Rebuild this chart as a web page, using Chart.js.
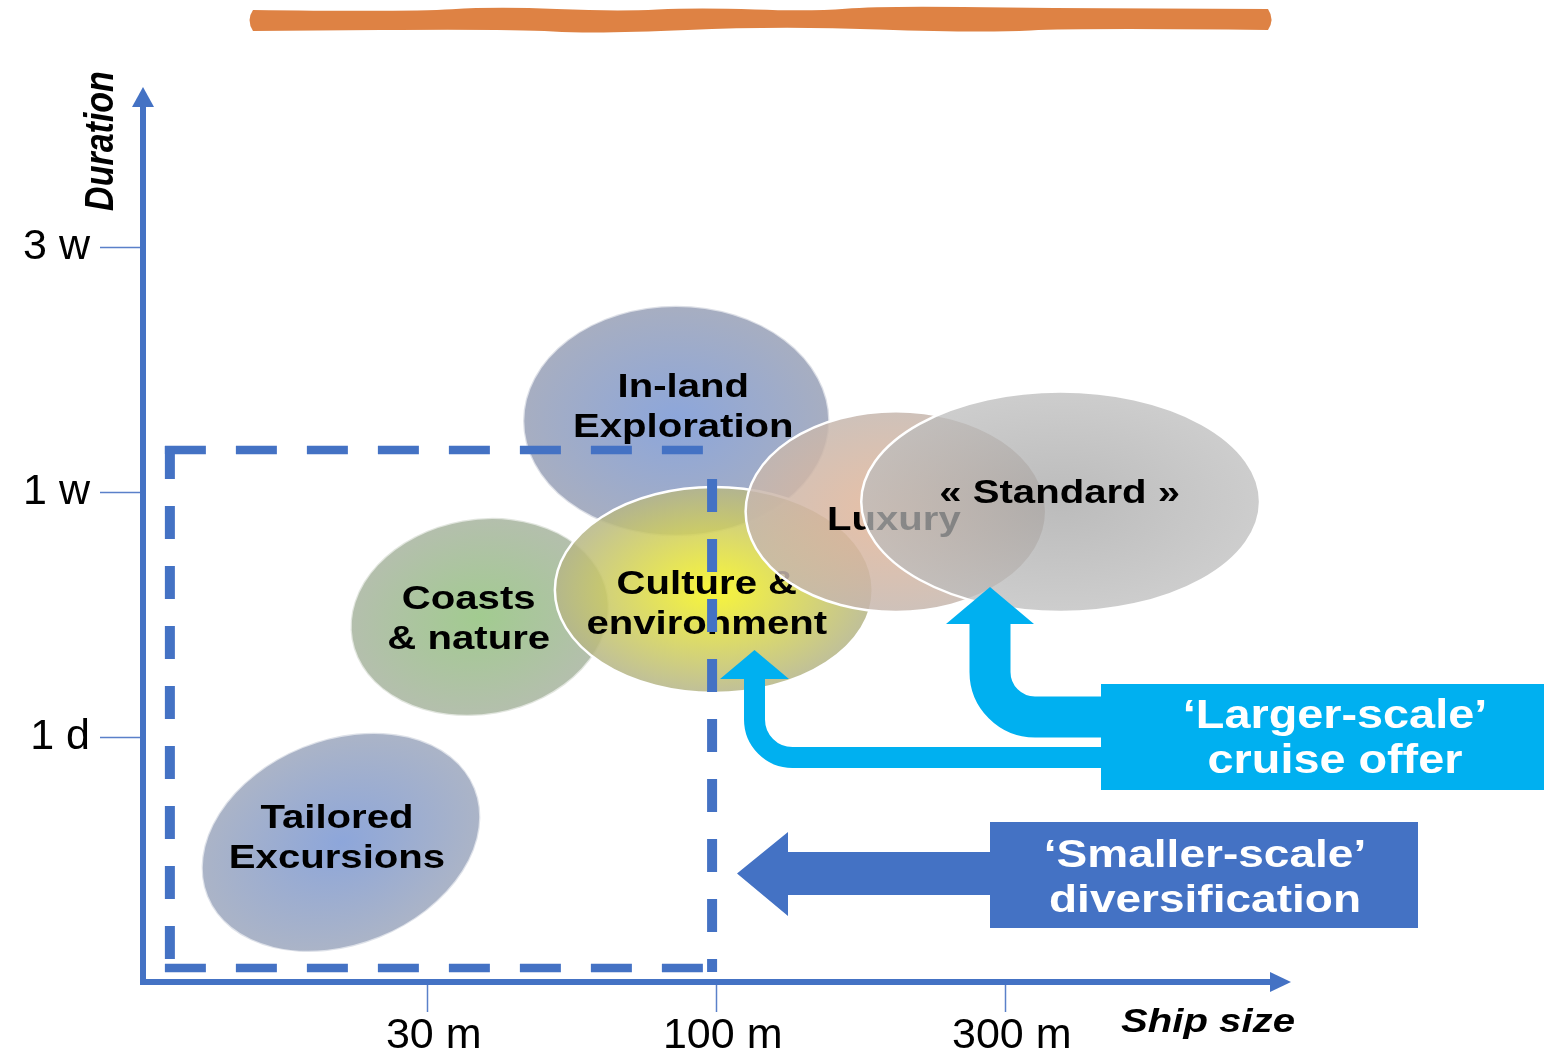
<!DOCTYPE html>
<html>
<head>
<meta charset="utf-8">
<script src="https://cdn.jsdelivr.net/npm/chart.js@4.4.0/dist/chart.umd.min.js"></script>
<style>
html, body { margin: 0; padding: 0; background: #fff; }
</style>
</head>
<body>
<canvas id="offerChart" width="1544" height="1051"></canvas>
<script>
// cruise offer segments: x = ship size step, y = duration step
const segments = ['Tailored\nExcursions', 'Coasts\n& nature', 'In-land\nExploration', 'Culture &\nenvironment', 'Luxury', '« Standard »'];
const shipSize = [0.70, 1.18, 1.86, 1.99, 2.62, 3.19];
const duration = [0.57, 1.49, 2.29, 1.60, 1.92, 1.96];
const sizeSpread = [0.50, 0.45, 0.53, 0.55, 0.52, 0.69];
const durationSpread = [0.42, 0.40, 0.47, 0.42, 0.41, 0.45];

const sizeTicks = ['30 m', '100 m', '300 m'];
const durationTicks = ['1 d', '1 w', '3 w'];

// dashed 'smaller scale' zone (data units)
const zoneX = [0.108, 1.984];
const zoneY = [0.057, 2.171];

const BLUE = '#4472C4';
const CYAN = '#00B0F0';
const FONT = '"Liberation Sans", Arial, sans-serif';

const segmentStyle = [
    { inner: '#8DA6DA', outer: '#ABB4C7', alpha: 1, tilt: -22, edge: 'rgba(255,255,255,0.6)', dx: -4, dy: -4 },
    { inner: '#A2CB90', outer: '#B4BFAD', alpha: 1, tilt: -10, edge: 'rgba(255,255,255,0.6)', dx: -11, dy: 3 },
    { inner: '#8CA6DB', outer: '#A7AEC1', alpha: 1, tilt: 0, edge: 'rgba(255,255,255,0.6)', dx: 7, dy: -13 },
    { inner: '#F7F419', outer: '#B5B588', alpha: 0.86, tilt: 0, edge: '#FFFFFF', dx: -7, dy: 15 },
    { inner: '#E6B595', outer: '#C6B7AE', alpha: 0.85, tilt: 0, edge: '#FFFFFF', dx: -2, dy: 9 },
    { inner: '#A4A4A4', outer: '#BCBCBC', alpha: 0.74, tilt: 0, edge: '#FFFFFF', dx: -1, dy: -8 }
];

function wideText(ctx, text, x, y, font, color, sx, align) {
    ctx.save();
    ctx.font = font;
    ctx.fillStyle = color;
    ctx.textAlign = align || 'center';
    ctx.textBaseline = 'middle';
    ctx.translate(x, y);
    ctx.scale(sx, 1);
    ctx.fillText(text, 0, 0);
    ctx.restore();
}

function smoothTo(ctx, pts) {
    ctx.lineTo(pts[0][0], pts[0][1]);
    for (let i = 1; i < pts.length - 1; i++) {
        const mx = (pts[i][0] + pts[i + 1][0]) / 2;
        const my = (pts[i][1] + pts[i + 1][1]) / 2;
        ctx.quadraticCurveTo(pts[i][0], pts[i][1], mx, my);
    }
    ctx.lineTo(pts[pts.length - 1][0], pts[pts.length - 1][1]);
}

const segmentPlugin = {
    id: 'segments',
    afterDatasetsDraw(chart) {
        const { ctx, scales: { x, y } } = chart;
        segments.forEach((name, i) => {
            const st = segmentStyle[i];
            const cx = x.getPixelForValue(shipSize[i]);
            const cy = y.getPixelForValue(duration[i]);
            const rx = x.getPixelForValue(shipSize[i] + sizeSpread[i]) - cx;
            const ry = cy - y.getPixelForValue(duration[i] + durationSpread[i]);

            ctx.save();
            ctx.translate(cx, cy);
            ctx.rotate(st.tilt * Math.PI / 180);
            ctx.globalAlpha = st.alpha;
            ctx.save();
            ctx.scale(1, ry / rx);
            const g = ctx.createRadialGradient(0, 0, 0, 0, 0, rx);
            g.addColorStop(0, st.inner);
            g.addColorStop(1, st.outer);
            ctx.beginPath();
            ctx.arc(0, 0, rx, 0, Math.PI * 2);
            ctx.fillStyle = g;
            ctx.fill();
            ctx.restore();
            ctx.globalAlpha = 1;
            ctx.beginPath();
            ctx.ellipse(0, 0, rx, ry, 0, 0, Math.PI * 2);
            ctx.strokeStyle = st.edge;
            ctx.lineWidth = 2.5;
            ctx.stroke();
            ctx.restore();

            const lines = name.split('\n');
            const top = cy + st.dy - (lines.length - 1) * 20;
            lines.forEach((t, k) => {
                wideText(ctx, t, cx + st.dx, top + k * 40, 'bold 34px ' + FONT, '#000', 1.18);
            });
        });

        // dashed zone
        const l = x.getPixelForValue(zoneX[0]), r = x.getPixelForValue(zoneX[1]);
        const t = y.getPixelForValue(zoneY[1]), b = y.getPixelForValue(zoneY[0]);
        ctx.save();
        ctx.strokeStyle = BLUE;
        ctx.lineCap = 'butt';
        ctx.lineWidth = 8.5;
        ctx.setLineDash([41, 30]);
        ctx.beginPath(); ctx.moveTo(l - 5, t); ctx.lineTo(r + 5, t); ctx.stroke();
        ctx.beginPath(); ctx.moveTo(l - 5, b); ctx.lineTo(r + 5, b); ctx.stroke();
        ctx.lineWidth = 10;
        ctx.setLineDash([33, 27]);
        ctx.beginPath(); ctx.moveTo(l, t - 4); ctx.lineTo(l, b + 4); ctx.stroke();
        ctx.beginPath(); ctx.moveTo(r, t + 29); ctx.lineTo(r, b + 4); ctx.stroke();
        ctx.restore();
    }
};

const decorPlugin = {
    id: 'decor',
    afterDraw(chart) {
        const { ctx, chartArea: a } = chart;
        ctx.save();

        // axis arrow heads
        ctx.fillStyle = BLUE;
        ctx.beginPath();
        ctx.moveTo(a.left - 11, a.top + 7);
        ctx.lineTo(a.left + 11, a.top + 7);
        ctx.lineTo(a.left, a.top - 13);
        ctx.closePath();
        ctx.fill();
        ctx.beginPath();
        ctx.moveTo(a.right - 8, a.bottom - 10);
        ctx.lineTo(a.right - 8, a.bottom + 10);
        ctx.lineTo(a.right + 13, a.bottom);
        ctx.closePath();
        ctx.fill();

        // axis titles
        ctx.save();
        ctx.translate(113, 141);
        ctx.scale(1.18, 1);
        ctx.rotate(-Math.PI / 2);
        ctx.font = 'italic bold 34px ' + FONT;
        ctx.fillStyle = '#000';
        ctx.textAlign = 'center';
        ctx.textBaseline = 'alphabetic';
        ctx.fillText('Duration', 0, 0);
        ctx.restore();
        wideText(ctx, 'Ship size', 1208, 1023, 'italic bold 34px ' + FONT, '#000', 1.18);

        // orange header stroke
        const topEdge = [[253, 10], [408, 12], [496, 6.5], [617, 11.5], [698, 7.5], [812, 11.5], [879, 6], [1047, 8], [1268, 9]];
        const bottomEdge = [[1268, 30], [1081, 28], [980, 33], [778, 26], [597, 34], [509, 29], [253, 31]];
        ctx.fillStyle = '#DE8244';
        ctx.beginPath();
        ctx.moveTo(253, 10);
        smoothTo(ctx, topEdge);
        ctx.quadraticCurveTo(1275, 19.5, 1268, 30);
        smoothTo(ctx, bottomEdge);
        ctx.quadraticCurveTo(246, 20, 253, 10);
        ctx.closePath();
        ctx.fill();

        // 'larger-scale' callout
        ctx.strokeStyle = CYAN;
        ctx.fillStyle = CYAN;
        ctx.lineCap = 'butt';
        ctx.lineWidth = 21;
        ctx.beginPath();
        ctx.moveTo(1110, 757.5);
        ctx.arcTo(754.5, 757.5, 754.5, 678, 38);
        ctx.lineTo(754.5, 676);
        ctx.stroke();
        ctx.beginPath();
        ctx.moveTo(720, 679); ctx.lineTo(789, 679); ctx.lineTo(754.5, 650);
        ctx.closePath(); ctx.fill();

        ctx.lineWidth = 41;
        ctx.beginPath();
        ctx.moveTo(1110, 717);
        ctx.arcTo(990, 717, 990, 622, 45);
        ctx.lineTo(990, 621);
        ctx.stroke();
        ctx.beginPath();
        ctx.moveTo(946, 624); ctx.lineTo(1034, 624); ctx.lineTo(990, 587);
        ctx.closePath(); ctx.fill();

        ctx.fillRect(1101, 684, 443, 106);
        wideText(ctx, '\u2018Larger-scale\u2019', 1335, 717, 'bold 40px ' + FONT, '#fff', 1.17);
        wideText(ctx, 'cruise offer', 1335, 762, 'bold 40px ' + FONT, '#fff', 1.17);

        // 'smaller-scale' callout
        ctx.fillStyle = BLUE;
        ctx.beginPath();
        ctx.moveTo(992, 852); ctx.lineTo(788, 852); ctx.lineTo(788, 832);
        ctx.lineTo(737, 873.5);
        ctx.lineTo(788, 916); ctx.lineTo(788, 895); ctx.lineTo(992, 895);
        ctx.closePath(); ctx.fill();
        ctx.fillRect(990, 822, 428, 106);
        wideText(ctx, '\u2018Smaller-scale\u2019', 1205, 856, 'bold 39px ' + FONT, '#fff', 1.18);
        wideText(ctx, 'diversification', 1205, 901, 'bold 39px ' + FONT, '#fff', 1.18);

        ctx.restore();
    }
};

const ctx = document.getElementById('offerChart').getContext('2d');
window.chart = new Chart(ctx, {
    type: 'scatter',
    data: {
        datasets: [{
            data: shipSize.map((v, i) => ({ x: v, y: duration[i] })),
            pointRadius: 0,
            showLine: false
        }]
    },
    options: {
        responsive: false,
        animation: false,
        layout: { padding: { top: 100, right: 266, left: 0, bottom: 0 } },
        plugins: { legend: { display: false }, tooltip: { enabled: false } },
        scales: {
            x: {
                type: 'linear',
                min: 0.015,
                max: 3.942,
                afterFit(s) { s.height = 69; },
                afterBuildTicks(s) { s.ticks = [1, 2, 3].map(v => ({ value: v })); },
                grid: { drawOnChartArea: false, drawTicks: true, tickLength: 30, tickColor: '#5A80C9', tickWidth: 1.5 },
                border: { display: true, color: BLUE, width: 6 },
                ticks: {
                    autoSkip: false,
                    maxRotation: 0,
                    padding: -2,
                    labelOffset: 6,
                    color: '#000',
                    font: { family: FONT, size: 43 },
                    callback: (v, i) => sizeTicks[i]
                }
            },
            y: {
                type: 'linear',
                min: 0,
                max: 3.6,
                afterFit(s) { s.width = 143; },
                afterBuildTicks(s) { s.ticks = [1, 2, 3].map(v => ({ value: v })); },
                grid: { drawOnChartArea: false, drawTicks: true, tickLength: 43, tickColor: '#5A80C9', tickWidth: 1.5 },
                border: { display: true, color: BLUE, width: 6 },
                ticks: {
                    autoSkip: false,
                    padding: 10,
                    color: '#000',
                    font: { family: FONT, size: 43 },
                    callback: (v, i) => durationTicks[i]
                }
            }
        }
    },
    plugins: [segmentPlugin, decorPlugin]
});
</script>
</body>
</html>
